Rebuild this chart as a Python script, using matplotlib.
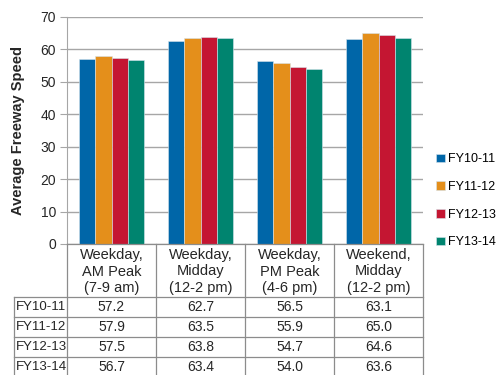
import numpy as np
import matplotlib.pyplot as plt
from matplotlib.lines import Line2D

periods = ["Weekday,\nAM Peak\n(7-9 am)", "Weekday,\nMidday\n(12-2 pm)",
           "Weekday,\nPM Peak\n(4-6 pm)", "Weekend,\nMidday\n(12-2 pm)"]
years = ["FY10-11", "FY11-12", "FY12-13", "FY13-14"]
fy10_11 = [57.2, 62.7, 56.5, 63.1]
fy11_12 = [57.9, 63.5, 55.9, 65.0]
fy12_13 = [57.5, 63.8, 54.7, 64.6]
fy13_14 = [56.7, 63.4, 54.0, 63.6]
series = [fy10_11, fy11_12, fy12_13, fy13_14]
colors = ["#0066A8", "#E48F1B", "#C41632", "#00846F"]

plt.rcParams['font.family'] = 'Liberation Sans'
grid_c = "#A6A6A6"
text_c = "#262626"

fig = plt.figure(figsize=(4.96, 3.75), dpi=100)
W, H = 496.0, 375.0
x0, x1, y0, y1 = 67, 423, 244, 17
ax = fig.add_axes([x0 / W, 1 - y0 / H, (x1 - x0) / W, (y0 - y1) / H])

x = np.arange(len(periods))
bw = 0.18
for i, (vals, c, lab) in enumerate(zip(series, colors, years)):
    ax.bar(x + (i - 1.5) * bw, vals, bw, color=c, label=lab,
           edgecolor="#D6E4EC", linewidth=0.4, zorder=3)

ax.set_xlim(-0.5, len(periods) - 0.5)
ax.set_ylim(0, 70)
ax.set_yticks(range(0, 71, 10))
ax.yaxis.grid(True, color=grid_c, linewidth=1.0, zorder=0)
ax.set_xticks([])
for s in ["top", "right", "bottom"]:
    ax.spines[s].set_visible(False)
ax.spines["left"].set_color(grid_c)
ax.tick_params(axis="y", length=5, color=grid_c, labelsize=10,
               labelcolor=text_c, pad=3)
ax.set_ylabel("Average Freeway Speed", fontsize=10.5, fontweight="bold",
              color=text_c, labelpad=11)

ax.legend(loc="center left", bbox_to_anchor=(1.036, 0.19), frameon=False,
          fontsize=9, handlelength=0.7, handleheight=0.7,
          handletextpad=0.25, labelspacing=1.25, borderaxespad=0,
          borderpad=0)

# data table under the chart, in pixel coordinates
tab = fig.add_axes([0, 0, 1, 1], facecolor="none")
tab.set_xlim(0, W)
tab.set_ylim(H, 0)
tab.axis("off")

col_edges = np.linspace(x0, x1, len(periods) + 1)
label_left = 14
head_bottom = 297
row_h = 20
row_edges = [head_bottom + row_h * k for k in range(len(years) + 1)]
lc = "#8C8C8C"

def seg(xs, ys):
    tab.add_line(Line2D(xs, ys, color=lc, linewidth=0.9))

for cx in col_edges:
    seg([cx, cx], [y0, H + 5])
seg([label_left, label_left], [head_bottom, H + 5])
seg([x0, x1], [y0, y0])
for ry in row_edges[:-1]:
    seg([label_left, x1], [ry, ry])

for j, p in enumerate(periods):
    tab.text((col_edges[j] + col_edges[j + 1]) / 2, (y0 + head_bottom) / 2 + 1, p,
             ha="center", va="center", fontsize=10.5, color=text_c,
             linespacing=1.2)
for i, (lab, vals) in enumerate(zip(years, series)):
    cy = row_edges[i] + row_h / 2
    tab.text(label_left + 2, cy, lab, ha="left", va="center",
             fontsize=9.5, color=text_c)
    for j, v in enumerate(vals):
        tab.text((col_edges[j] + col_edges[j + 1]) / 2, cy, f"{v:.1f}",
                 ha="center", va="center", fontsize=10, color=text_c)

fig.savefig("out.png", dpi=100)
